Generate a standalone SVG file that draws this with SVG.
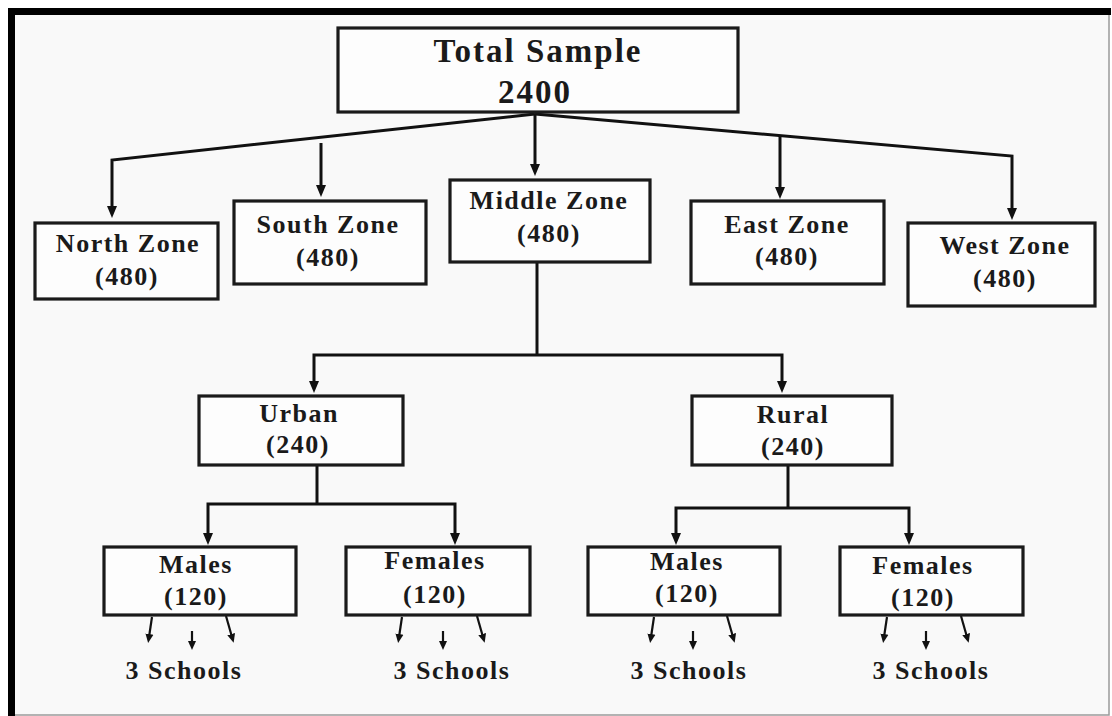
<svg xmlns="http://www.w3.org/2000/svg" width="1112" height="716" viewBox="0 0 1112 716">
<defs>
<style>
.box{fill:#fdfdfd;stroke:#1a1a1a;stroke-width:3.2}
.lbl{font-family:"Liberation Serif","Times New Roman",serif;font-weight:bold;font-size:26px;letter-spacing:1.5px;fill:#1a1a1a;text-anchor:middle}
.ttl{font-family:"Liberation Serif","Times New Roman",serif;font-weight:bold;font-size:33px;letter-spacing:2px;fill:#1a1a1a;text-anchor:middle}
.con{fill:none;stroke:#111;stroke-width:3;stroke-linejoin:miter}
.sm{fill:none;stroke:#111;stroke-width:2.2}
</style>
<marker id="ah" markerUnits="userSpaceOnUse" markerWidth="12" markerHeight="12" viewBox="0 0 12 12" refX="5" refY="6" orient="auto">
<path d="M0,1 L12,6 L0,11 z" fill="#111"/>
</marker>
<marker id="as" markerUnits="userSpaceOnUse" markerWidth="9" markerHeight="9" viewBox="0 0 9 9" refX="3" refY="4.5" orient="auto">
<path d="M0,0.5 L9,4.5 L0,8.5 z" fill="#111"/>
</marker>
</defs>
<rect x="0" y="0" width="1112" height="716" fill="#ffffff"/>
<rect x="11" y="11" width="1098" height="704" fill="#f9f9f9" stroke="#9a9a9a" stroke-width="1.5"/>
<line x1="8" y1="11.5" x2="1111" y2="11.5" stroke="#000" stroke-width="7"/>
<line x1="11.5" y1="8" x2="11.5" y2="716" stroke="#000" stroke-width="7"/>

<g id="connectors">
<polyline class="con" points="535,114 112,160 112,211" marker-end="url(#ah)"/>
<line class="con" x1="321" y1="143" x2="321" y2="190" marker-end="url(#ah)"/>
<line class="con" x1="535" y1="114" x2="535" y2="169" marker-end="url(#ah)"/>
<polyline class="con" points="535,114 1012,156 1012,213" marker-end="url(#ah)"/>
<line class="con" x1="780" y1="135" x2="780" y2="192" marker-end="url(#ah)"/>
<line class="con" x1="537" y1="262" x2="537" y2="355"/>
<polyline class="con" points="314,386 314,355 782,355 782,386"/>
<line class="con" x1="314" y1="384" x2="314" y2="386" marker-end="url(#ah)"/>
<line class="con" x1="782" y1="384" x2="782" y2="386" marker-end="url(#ah)"/>
<line class="con" x1="317" y1="466" x2="317" y2="504"/>
<polyline class="con" points="208,538 208,504 455,504 455,538"/>
<line class="con" x1="208" y1="536" x2="208" y2="538" marker-end="url(#ah)"/>
<line class="con" x1="455" y1="536" x2="455" y2="538" marker-end="url(#ah)"/>
<line class="con" x1="788" y1="466" x2="788" y2="508"/>
<polyline class="con" points="676,538 676,508 909,508 909,538"/>
<line class="con" x1="676" y1="536" x2="676" y2="538" marker-end="url(#ah)"/>
<line class="con" x1="909" y1="536" x2="909" y2="538" marker-end="url(#ah)"/>
<!-- small arrows to schools -->
<line class="sm" x1="152" y1="617" x2="149" y2="637" marker-end="url(#as)"/>
<line class="sm" x1="192" y1="631" x2="192" y2="644" marker-end="url(#as)"/>
<line class="sm" x1="226" y1="616" x2="232" y2="637" marker-end="url(#as)"/>
<line class="sm" x1="402" y1="617" x2="399" y2="637" marker-end="url(#as)"/>
<line class="sm" x1="443" y1="631" x2="443" y2="644" marker-end="url(#as)"/>
<line class="sm" x1="477" y1="616" x2="483" y2="637" marker-end="url(#as)"/>
<line class="sm" x1="654" y1="617" x2="651" y2="637" marker-end="url(#as)"/>
<line class="sm" x1="693" y1="631" x2="693" y2="644" marker-end="url(#as)"/>
<line class="sm" x1="727" y1="616" x2="733" y2="637" marker-end="url(#as)"/>
<line class="sm" x1="887" y1="617" x2="884" y2="637" marker-end="url(#as)"/>
<line class="sm" x1="926" y1="631" x2="926" y2="644" marker-end="url(#as)"/>
<line class="sm" x1="961" y1="616" x2="967" y2="637" marker-end="url(#as)"/>
</g>

<g id="total">
<rect class="box" x="338" y="28" width="400" height="84"/>
<text class="ttl" x="538" y="62">Total Sample</text>
<text class="ttl" x="535" y="103">2400</text>
</g>
<g id="north">
<rect class="box" x="35" y="223" width="183" height="76"/>
<text class="lbl" x="128" y="252">North Zone</text>
<text class="lbl" x="127" y="285">(480)</text>
</g>
<g id="south">
<rect class="box" x="234" y="201" width="192" height="83"/>
<text class="lbl" x="328" y="233">South Zone</text>
<text class="lbl" x="328" y="266">(480)</text>
</g>
<g id="middle">
<rect class="box" x="450" y="180" width="200" height="82"/>
<text class="lbl" x="549" y="209">Middle Zone</text>
<text class="lbl" x="549" y="242">(480)</text>
</g>
<g id="east">
<rect class="box" x="691" y="201" width="193" height="83"/>
<text class="lbl" x="787" y="233">East Zone</text>
<text class="lbl" x="787" y="265">(480)</text>
</g>
<g id="west">
<rect class="box" x="908" y="223" width="187" height="83"/>
<text class="lbl" x="1005" y="254">West Zone</text>
<text class="lbl" x="1005" y="287">(480)</text>
</g>
<g id="urban">
<rect class="box" x="199" y="396" width="204" height="69"/>
<text class="lbl" x="299" y="422">Urban</text>
<text class="lbl" x="298" y="453">(240)</text>
</g>
<g id="rural">
<rect class="box" x="692" y="396" width="200" height="69"/>
<text class="lbl" x="793" y="423">Rural</text>
<text class="lbl" x="793" y="455">(240)</text>
</g>
<g id="urban-males">
<rect class="box" x="104" y="547" width="192" height="68"/>
<text class="lbl" x="196" y="573">Males</text>
<text class="lbl" x="196" y="605">(120)</text>
</g>
<g id="urban-females">
<rect class="box" x="346" y="547" width="184" height="68"/>
<text class="lbl" x="435" y="569">Females</text>
<text class="lbl" x="435" y="603">(120)</text>
</g>
<g id="rural-males">
<rect class="box" x="588" y="547" width="192" height="68"/>
<text class="lbl" x="687" y="570">Males</text>
<text class="lbl" x="687" y="602">(120)</text>
</g>
<g id="rural-females">
<rect class="box" x="840" y="547" width="183" height="68"/>
<text class="lbl" x="923" y="574">Females</text>
<text class="lbl" x="923" y="606">(120)</text>
</g>
<g id="schools">
<text class="lbl" x="184" y="679">3 Schools</text>
<text class="lbl" x="452" y="679">3 Schools</text>
<text class="lbl" x="689" y="679">3 Schools</text>
<text class="lbl" x="931" y="679">3 Schools</text>
</g>
</svg>
